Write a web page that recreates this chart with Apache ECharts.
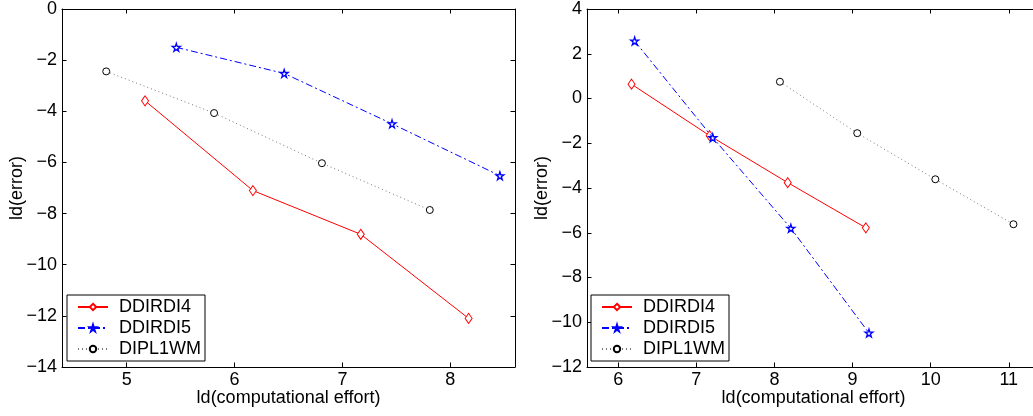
<!DOCTYPE html>
<html>
<head>
<meta charset="utf-8">
<script src="https://cdn.jsdelivr.net/npm/echarts@6/dist/echarts.min.js"></script>
<style>
html,body{margin:0;padding:0;background:#fff;}
#c{width:1033px;height:416px;}
</style>
</head>
<body>
<div id="c"></div>
<script>
// ---- data ----
var seriesNames = ['DDIRDI4', 'DDIRDI5', 'DIPL1WM'];

var leftX4 = [5.17, 6.17, 7.17, 8.17];
var leftY4 = [-3.59, -7.10, -8.81, -12.10];
var leftX5 = [5.46, 6.46, 7.46, 8.46];
var leftY5 = [-1.50, -2.52, -4.49, -6.52];
var leftXW = [4.81, 5.81, 6.81, 7.81];
var leftYW = [-2.44, -4.07, -6.03, -7.86];

var rightX4 = [6.17, 7.17, 8.17, 9.17];
var rightY4 = [0.64, -1.66, -3.76, -5.78];
var rightX5 = [6.21, 7.21, 8.21, 9.21];
var rightY5 = [2.57, -1.75, -5.80, -10.48];
var rightXW = [8.07, 9.06, 10.06, 11.06];
var rightYW = [0.75, -1.55, -3.61, -5.62];

var leftXTicks = [5, 6, 7, 8];
var rightXTicks = [6, 7, 8, 9, 10, 11];
var xTitle = 'ld(computational effort)';
var yTitle = 'ld(error)';

// ---- helpers ----
function pairs(xs, ys) { return xs.map(function (x, i) { return [x, ys[i]]; }); }
var FONT = '"Liberation Sans", Arial, Helvetica, sans-serif';
var minus = function (v) { return String(v).replace('-', '\u2212'); };
var STAR = 'path://M50,0 L61,35 L98,35 L68,57 L79,91 L50,70 L21,91 L32,57 L2,35 L39,35 Z';

function xAxes(gi, min, max, ticks) {
  return [{
    type: 'value', gridIndex: gi, min: min, max: max, position: 'bottom',
    name: xTitle, nameLocation: 'middle', nameGap: 22, nameMoveOverlap: false,
    nameTextStyle: { color: '#000', fontSize: 18, fontFamily: FONT },
    axisLine: { show: true, onZero: false, lineStyle: { color: '#000', width: 1 } },
    axisTick: { show: true, inside: true, length: 4.5, customValues: ticks, lineStyle: { color: '#000' } },
    axisLabel: { show: true, customValues: ticks, margin: 4, color: '#000', fontSize: 18, fontFamily: FONT, formatter: minus },
    splitLine: { show: false }
  }, {
    type: 'value', gridIndex: gi, min: min, max: max, position: 'top',
    axisLine: { show: true, onZero: false, lineStyle: { color: '#000', width: 1 } },
    axisTick: { show: true, inside: true, length: 4.5, customValues: ticks, lineStyle: { color: '#000' } },
    axisLabel: { show: false },
    splitLine: { show: false }
  }];
}
function yAxes(gi, min, max) {
  return [{
    type: 'value', gridIndex: gi, min: min, max: max, interval: 2, position: 'left',
    name: yTitle, nameLocation: 'middle', nameGap: 36, nameMoveOverlap: false,
    nameTextStyle: { color: '#000', fontSize: 18, fontFamily: FONT },
    axisLine: { show: true, onZero: false, lineStyle: { color: '#000', width: 1 } },
    axisTick: { show: true, inside: true, length: 4.5, lineStyle: { color: '#000' } },
    axisLabel: { show: true, margin: 5, color: '#000', fontSize: 18, fontFamily: FONT, formatter: minus },
    splitLine: { show: false }
  }, {
    type: 'value', gridIndex: gi, min: min, max: max, interval: 2, position: 'right',
    axisLine: { show: true, onZero: false, lineStyle: { color: '#000', width: 1 } },
    axisTick: { show: true, inside: true, length: 4.5, lineStyle: { color: '#000' } },
    axisLabel: { show: false },
    splitLine: { show: false }
  }];
}
function mkSeries(xi, yi, x4, y4, x5, y5, xw, yw) {
  return [{
    name: seriesNames[0], type: 'line', xAxisIndex: xi, yAxisIndex: yi,
    data: pairs(x4, y4), symbol: 'diamond', symbolSize: [7, 10], showSymbol: true,
    lineStyle: { color: '#ff0000', width: 1, type: 'solid' },
    itemStyle: { color: '#ffffff', borderColor: '#ff0000', borderWidth: 1 },
    emphasis: { disabled: true }, animation: false, z: 3
  }, {
    name: seriesNames[1], type: 'line', xAxisIndex: xi, yAxisIndex: yi,
    data: pairs(x5, y5), symbol: STAR, symbolSize: 8, showSymbol: true,
    lineStyle: { color: '#0000ff', width: 1, type: [7, 3, 2, 3] },
    itemStyle: { color: '#ffffff', borderColor: '#0000ff', borderWidth: 1.3 },
    emphasis: { disabled: true }, animation: false, z: 4
  }, {
    name: seriesNames[2], type: 'line', xAxisIndex: xi, yAxisIndex: yi,
    data: pairs(xw, yw), symbol: 'circle', symbolSize: 7, showSymbol: true,
    lineStyle: { color: '#777777', width: 1, type: [1, 3] },
    itemStyle: { color: '#ffffff', borderColor: '#000000', borderWidth: 1 },
    emphasis: { disabled: true }, animation: false, z: 2
  }];
}
function mkLegend(left) {
  return {
    show: true, orient: 'vertical', left: left, top: 295,
    data: seriesNames, itemWidth: 30, itemHeight: 8, itemGap: 3,
    padding: [3, 4, 3, 10],
    borderColor: '#000', borderWidth: 1, backgroundColor: '#fff',
    textStyle: { color: '#000', fontSize: 18, fontFamily: FONT, padding: [0, 0, 0, 6] },
    selectedMode: false
  };
}

var chart = echarts.init(document.getElementById('c'), null, { renderer: 'canvas' });
chart.setOption({
  animation: false,
  backgroundColor: '#fff',
  grid: [
    { left: 62, top: 9, width: 453, height: 358, outerBoundsMode: 'none', containLabel: false },
    { left: 587, top: 9, width: 453, height: 358, outerBoundsMode: 'none', containLabel: false }
  ],
  xAxis: xAxes(0, 4.4, 8.6, leftXTicks).concat(xAxes(1, 5.6, 11.4, rightXTicks)),
  yAxis: yAxes(0, -14, 0).concat(yAxes(1, -12, 4)),
  legend: [mkLegend(67), mkLegend(591)],
  series: mkSeries(0, 0, leftX4, leftY4, leftX5, leftY5, leftXW, leftYW)
    .concat(mkSeries(2, 2, rightX4, rightY4, rightX5, rightY5, rightXW, rightYW))
});
</script>
</body>
</html>
